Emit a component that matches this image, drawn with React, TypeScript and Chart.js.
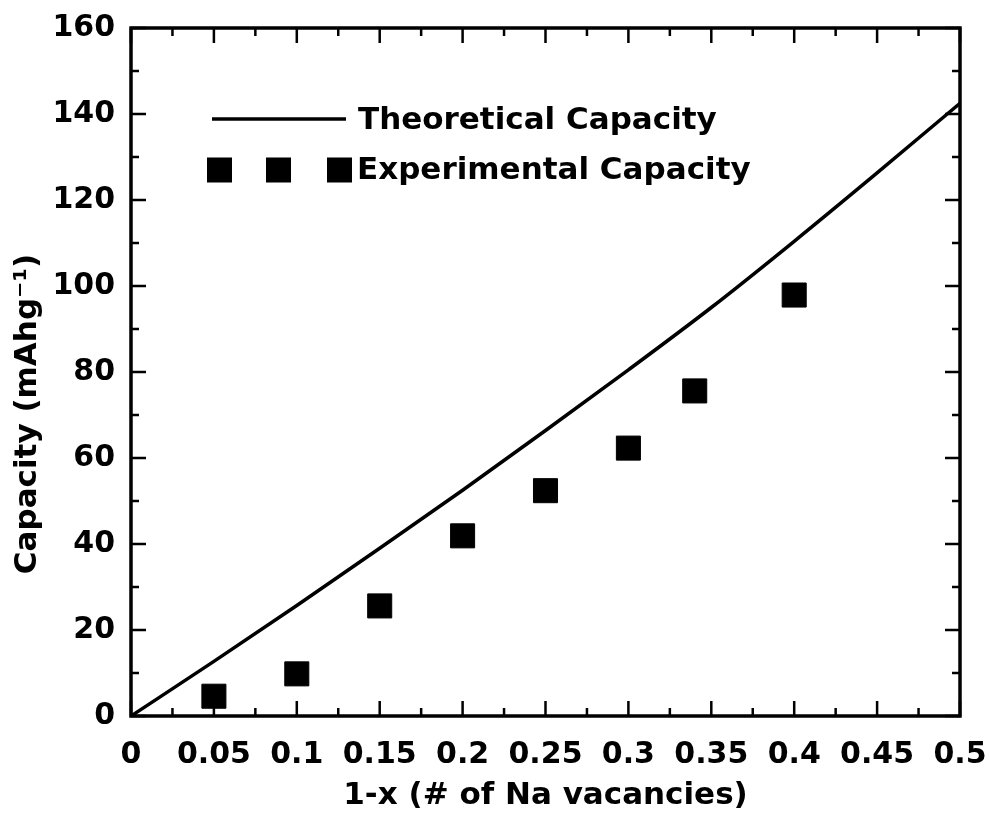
import React, { useEffect, useRef } from 'react';
import { Chart, registerables } from 'chart.js';

Chart.register(...registerables);

// ---- data ----
const theoryX = [0, 0.05, 0.1, 0.15, 0.2, 0.25, 0.3, 0.35, 0.4, 0.45, 0.5];
const theoryY = [0, 12.7, 25.7, 39.0, 52.5, 66.4, 80.5, 95.0, 110.4, 126.3, 142.5];
const expX = [0.05, 0.1, 0.15, 0.2, 0.25, 0.3, 0.34, 0.4];
const expY = [4.6, 9.8, 25.6, 41.9, 52.4, 62.3, 75.6, 97.9];
const xTickLabels = ['0', '0.05', '0.1', '0.15', '0.2', '0.25', '0.3', '0.35', '0.4', '0.45', '0.5'];
const yTickLabels = ['0', '20', '40', '60', '80', '100', '120', '140', '160'];
const seriesLabels = ['Theoretical Capacity', 'Experimental Capacity'];
const xTitle = '1-x (# of Na vacancies)';
const yTitle = 'Capacity (mAhg\u207B\u00B9)';

const FONT = "'DejaVu Sans', 'Liberation Sans', sans-serif";

const framePlugin = {
  id: 'frameTicks',
  afterDatasetsDraw(chart: any) {
    const { ctx, chartArea: a, scales } = chart;
    const xs = scales.x;
    const ys = scales.y;
    ctx.save();
    ctx.strokeStyle = '#000';
    ctx.lineCap = 'butt';
    ctx.lineWidth = 2.5;
    const xv: number[] = xs.ticks.map((t: any) => t.value);
    const yv: number[] = ys.ticks.map((t: any) => t.value);
    const drawX = (v: number, len: number) => {
      const px = xs.getPixelForValue(v);
      ctx.beginPath();
      ctx.moveTo(px, a.bottom);
      ctx.lineTo(px, a.bottom - len);
      ctx.moveTo(px, a.top);
      ctx.lineTo(px, a.top + len);
      ctx.stroke();
    };
    const drawY = (v: number, len: number) => {
      const py = ys.getPixelForValue(v);
      ctx.beginPath();
      ctx.moveTo(a.left, py);
      ctx.lineTo(a.left + len, py);
      ctx.moveTo(a.right, py);
      ctx.lineTo(a.right - len, py);
      ctx.stroke();
    };
    xv.forEach((v, i) => {
      drawX(v, 15);
      if (i < xv.length - 1) drawX((v + xv[i + 1]) / 2, 8);
    });
    yv.forEach((v, i) => {
      drawY(v, 15);
      if (i < yv.length - 1) drawY((v + yv[i + 1]) / 2, 8);
    });
    ctx.lineWidth = 3.5;
    ctx.strokeRect(a.left, a.top, a.right - a.left, a.bottom - a.top);
    ctx.restore();
  },
  afterDraw(chart: any) {
    const { ctx } = chart;
    ctx.save();
    ctx.fillStyle = '#000';
    ctx.font = `bold 31px ${FONT}`;
    ctx.textAlign = 'center';
    ctx.textBaseline = 'middle';
    ctx.translate(28, 414);
    ctx.rotate(-Math.PI / 2);
    ctx.fillText(yTitle, 0, 0);
    ctx.restore();

    // legend
    ctx.save();
    ctx.fillStyle = '#000';
    ctx.strokeStyle = '#000';
    ctx.lineWidth = 3.5;
    ctx.beginPath();
    ctx.moveTo(212, 119);
    ctx.lineTo(346, 119);
    ctx.stroke();
    [219.5, 278.5, 339.5].forEach((cx) => {
      ctx.fillRect(cx - 12.5, 170 - 12.5, 25, 25);
    });
    ctx.font = `bold 31px ${FONT}`;
    ctx.textAlign = 'left';
    ctx.textBaseline = 'middle';
    ctx.fillText(chart.data.datasets[0].label, 358, 121);
    ctx.fillText(chart.data.datasets[1].label, 357, 171);
    ctx.restore();
  },
};

export default function App() {
  const ref = useRef<HTMLCanvasElement | null>(null);
  useEffect(() => {
    if (!ref.current) return;
    const chart = new Chart(ref.current, {
      type: 'scatter',
      data: {
        datasets: [
          {
            label: seriesLabels[0],
            data: theoryX.map((x, i) => ({ x, y: theoryY[i] })),
            showLine: true,
            borderColor: '#000',
            backgroundColor: '#000',
            borderWidth: 3.5,
            pointRadius: 0,
            cubicInterpolationMode: 'monotone',
          },
          {
            label: seriesLabels[1],
            data: expX.map((x, i) => ({ x, y: expY[i] })),
            showLine: false,
            pointStyle: 'rect',
            pointRadius: 17,
            borderWidth: 1,
            borderColor: '#000',
            backgroundColor: '#000',
          },
        ],
      },
      options: {
        responsive: false,
        animation: false,
        devicePixelRatio: 1,
        layout: { padding: { top: 28, right: 30, left: 0, bottom: 0 } },
        plugins: { legend: { display: false }, tooltip: { enabled: false } },
        scales: {
          x: {
            type: 'linear',
            min: 0,
            max: 0.5,
            grid: { display: false, drawTicks: false },
            border: { display: false },
            ticks: {
              stepSize: 0.05,
              padding: 21,
              color: '#000',
              font: { family: FONT, weight: 'bold', size: 30 },
              maxRotation: 0,
              autoSkip: false,
              callback: (_v: any, i: number) => xTickLabels[i],
            },
            title: {
              display: true,
              text: xTitle,
              color: '#000',
              font: { family: FONT, weight: 'bold', size: 31 },
              padding: { top: 0, bottom: 0 },
            },
            afterFit: (s: any) => {
              s.height = 99;
              s.paddingLeft = 0;
              s.paddingRight = 0;
            },
          },
          y: {
            type: 'linear',
            min: 0,
            max: 160,
            grid: { display: false, drawTicks: false },
            border: { display: false },
            ticks: {
              stepSize: 20,
              padding: 16,
              color: '#000',
              font: { family: FONT, weight: 'bold', size: 30 },
              callback: (_v: any, i: number) => yTickLabels[i],
            },
            title: { display: false, text: yTitle },
            afterFit: (s: any) => {
              s.width = 131;
              s.paddingTop = 0;
              s.paddingBottom = 0;
            },
          },
        },
      },
      plugins: [framePlugin],
    } as any);
    return () => chart.destroy();
  }, []);
  return (
    <div style={{ position: 'absolute', left: 0, top: 0, width: 990, height: 815, background: '#fff' }}>
      <canvas ref={ref} width={990} height={815} />
    </div>
  );
}
